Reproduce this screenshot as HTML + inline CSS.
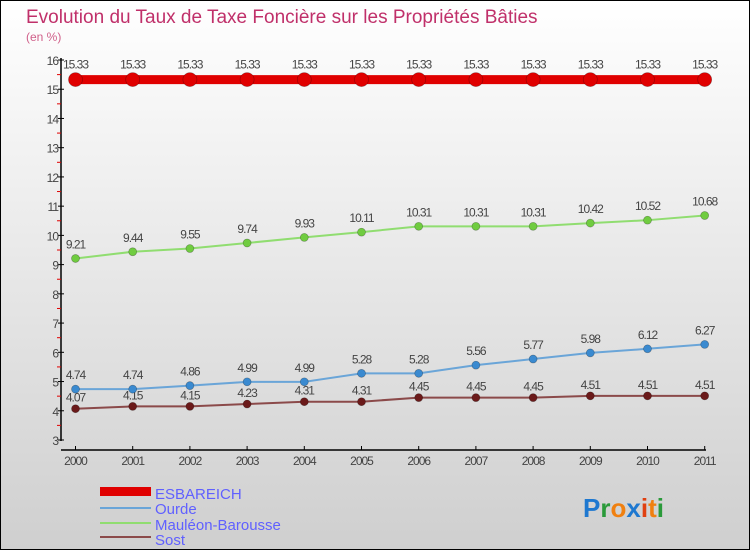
<!DOCTYPE html>
<html><head><meta charset="utf-8"><style>
body{margin:0;width:750px;height:550px;overflow:hidden;font-family:"Liberation Sans",sans-serif}
#c{position:absolute;left:0;top:0;width:748px;height:548px;border:1px solid #000;background:linear-gradient(#ffffff,#cfcfcf)}
</style></head><body>
<div id="c">
<svg id="s" width="750" height="550" style="position:absolute;left:-1px;top:-1px">
<text x="26" y="23" font-size="19" fill="#c0306a">Evolution du Taux de Taxe Foncière sur les Propriétés Bâties</text>
<text x="26" y="41" font-size="12" fill="#d0608a">(en %)</text>
<g id="axes"></g><g id="series"></g>
<g>
<rect x="100" y="487" width="51" height="9" fill="#e00000"/>
<text x="155" y="499" font-size="15" fill="#6060ff">ESBAREICH</text>
<line x1="100" y1="508" x2="151" y2="508" stroke="#6aa5d8" stroke-width="2"/>
<text x="155" y="514" font-size="15" fill="#6060ff">Ourde</text>
<line x1="100" y1="523" x2="151" y2="523" stroke="#90dd70" stroke-width="2"/>
<text x="155" y="530" font-size="15" fill="#6060ff">Mauléon-Barousse</text>
<line x1="100" y1="537" x2="151" y2="537" stroke="#8b4a4a" stroke-width="2"/>
<text x="155" y="545" font-size="15" fill="#6060ff">Sost</text>
</g>
<text x="583" y="517" font-size="26" font-weight="bold"><tspan fill="#1e78d0">P</tspan><tspan fill="#2a9a3a">r</tspan><tspan fill="#f08010">o</tspan><tspan fill="#1e78d0">x</tspan><tspan fill="#e04010">i</tspan><tspan fill="#f08010">t</tspan><tspan fill="#2a9a3a">i</tspan></text>
</svg></div>
<script>
const years=["2000","2001","2002","2003","2004","2005","2006","2007","2008","2009","2010","2011"];
const esbareich=[15.33,15.33,15.33,15.33,15.33,15.33,15.33,15.33,15.33,15.33,15.33,15.33];
const ourde=[4.74,4.74,4.86,4.99,4.99,5.28,5.28,5.56,5.77,5.98,6.12,6.27];
const mauleon=[9.21,9.44,9.55,9.74,9.93,10.11,10.31,10.31,10.31,10.42,10.52,10.68];
const sost=[4.07,4.15,4.15,4.23,4.31,4.31,4.45,4.45,4.45,4.51,4.51,4.51];
const yTicks=[3,4,5,6,7,8,9,10,11,12,13,14,15,16];
const NS="http://www.w3.org/2000/svg";
const X=i=>75.5+i*57.2;
const Y=v=>440-(v-3)*(380/13);
function mk(tag,at,parent){const e=document.createElementNS(NS,tag);for(const k in at)e.setAttribute(k,at[k]);parent.appendChild(e);return e;}
const ax=document.getElementById('axes');
let e=mk('line',{x1:61,y1:58,x2:61,y2:441,stroke:'#000','stroke-width':1.5},ax);


e=mk('line',{x1:61,y1:450,x2:706,y2:450,stroke:'#000','stroke-width':1.5},ax);


yTicks.forEach((t,i)=>{
 const y=Y(t);
 let l=mk('line',{x1:58,y1:y,x2:64,y2:y,stroke:'#000'},ax);
 
 
 let tx=mk('text',{x:58,y:y+5,'font-size':12,fill:'#444','text-anchor':'end','letter-spacing':'-1'},ax);
 tx.textContent=t;
 
 
 if(i<yTicks.length-1){
  let m=mk('line',{x1:57,y1:Y(t+0.5),x2:61,y2:Y(t+0.5),stroke:'#e00000'},ax);
  
  
 }
});
years.forEach((yr,i)=>{
 let l=mk('line',{x1:X(i),y1:446,x2:X(i),y2:450,stroke:'#000'},ax);
 
 
 let tx=mk('text',{x:X(i),y:465,'font-size':12,fill:'#444','text-anchor':'middle','letter-spacing':'-1'},ax);
 tx.textContent=yr;
 
 
});
const sg=document.getElementById('series');
function draw(name,vals,color,dot,w,r,dy){
 const g=mk('g',{},sg);
 
 
 const p=mk('polyline',{points:vals.map((v,i)=>X(i)+','+Y(v)).join(' '),fill:'none',stroke:color,'stroke-width':w},g);
 
 
 vals.forEach((v,i)=>{
  const c=mk('circle',{cx:X(i),cy:Y(v),r:r,fill:dot,stroke:'rgba(0,0,0,0.3)','stroke-width':0.7},g);
  
  
  const t=mk('text',{x:X(i),y:Y(v)+dy,'font-size':12,fill:'#444','text-anchor':'middle','letter-spacing':'-1'},g);
  t.textContent=v;
  
  
 });
}
draw('sost',sost,'#8b4a4a','#6b1a1a',2,4,-7);
draw('ourde',ourde,'#6aa5d8','#3a8ad0',2,4,-10);
draw('mauleon-barousse',mauleon,'#90dd70','#70cc40',2,4,-10);
draw('esbareich',esbareich,'#e00000','#e00000',9,7,-11);
</script>
</body></html>
